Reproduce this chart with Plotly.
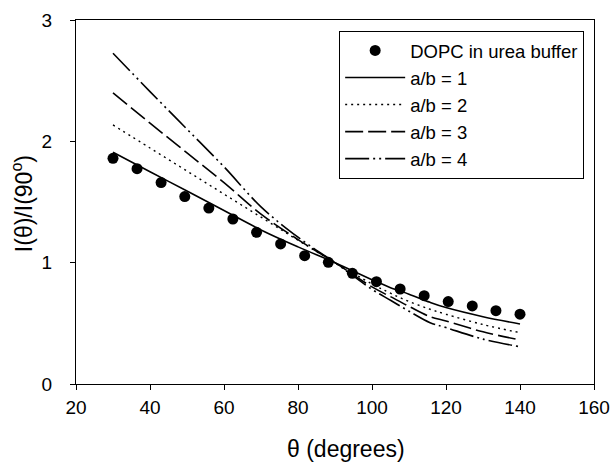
import plotly.graph_objects as go

# Measured data
theta_data = [30, 36.5, 43, 49.4, 55.9, 62.4, 68.8, 75.3, 81.8, 88.2, 94.7, 101.2, 107.6, 114.1, 120.6, 127.1, 133.5, 140]
ratio_data = [1.86, 1.775, 1.66, 1.545, 1.45, 1.36, 1.25, 1.154, 1.058, 1.003, 0.912, 0.843, 0.783, 0.728, 0.679, 0.643, 0.604, 0.575]

# Model curves
theta_fit = [30, 40, 50, 60, 70, 80, 90, 100, 105, 110, 115.7, 120, 130, 140]
ab1 = [1.91, 1.75, 1.59, 1.43, 1.27, 1.13, 1.0, 0.86, 0.794, 0.74, 0.673, 0.63, 0.555, 0.495]
ab2 = [2.135, 1.945, 1.755, 1.565, 1.375, 1.185, 1.0, 0.825, 0.748, 0.68, 0.616, 0.575, 0.49, 0.423]
ab3 = [2.40, 2.15, 1.905, 1.66, 1.40, 1.19, 1.0, 0.80, 0.72, 0.64, 0.555, 0.52, 0.43, 0.363]
ab4 = [2.726, 2.41, 2.10, 1.79, 1.46, 1.21, 1.0, 0.78, 0.69, 0.60, 0.505, 0.465, 0.37, 0.307]

x_ticks = [20, 40, 60, 80, 100, 120, 140, 160]
y_ticks = [0, 1, 2, 3]

FONT = "Liberation Sans, Arial, sans-serif"

fig = go.Figure()
fig.add_trace(go.Scatter(x=theta_data, y=ratio_data, mode="markers",
                         name="DOPC in urea buffer",
                         marker=dict(color="black", size=11, symbol="circle")))
fig.add_trace(go.Scatter(x=theta_fit, y=ab1, mode="lines", name="a/b = 1",
                         line=dict(color="black", width=1.6, dash="solid", shape="spline")))
fig.add_trace(go.Scatter(x=theta_fit, y=ab2, mode="lines", name="a/b = 2",
                         line=dict(color="black", width=1.4, dash="2px,4px", shape="spline")))
fig.add_trace(go.Scatter(x=theta_fit, y=ab3, mode="lines", name="a/b = 3",
                         line=dict(color="black", width=1.6, dash="18px,5px", shape="spline")))
fig.add_trace(go.Scatter(x=theta_fit, y=ab4, mode="lines", name="a/b = 4",
                         line=dict(color="black", width=1.6, dash="24px,4px,2px,4px,2px,4px", shape="spline")))

fig.update_layout(
    width=612, height=462,
    margin=dict(l=76, r=18, t=20, b=78, autoexpand=False),
    paper_bgcolor="white", plot_bgcolor="white",
    font=dict(family=FONT, size=19, color="black"),
    showlegend=True,
    legend=dict(x=0.981, y=0.97, xanchor="right", yanchor="top",
                bgcolor="white", bordercolor="black", borderwidth=1,
                font=dict(size=18.5), tracegroupgap=0, itemwidth=60),
    xaxis=dict(range=[20, 160], tickvals=x_ticks, ticks="outside", ticklen=5,
               tickcolor="black", showline=True, linecolor="black", linewidth=1,
               mirror=True, showgrid=False, zeroline=False, automargin=False,
               ticklabelstandoff=1),
    yaxis=dict(range=[0, 3], tickvals=y_ticks, ticks="outside", ticklen=5,
               tickcolor="black", showline=True, linecolor="black", linewidth=1,
               mirror=True, showgrid=False, zeroline=False, automargin=False,
               ticklabelstandoff=14),
    annotations=[
        dict(text="θ (degrees)", xref="paper", yref="paper", x=0.521, y=-0.1786,
             xanchor="center", yanchor="middle", showarrow=False,
             font=dict(size=23)),
        dict(text="I(θ)/I(90<sup>o</sup>)", xref="paper", yref="paper", x=-0.104, y=0.4945,
             xanchor="center", yanchor="middle", showarrow=False, textangle=-90,
             font=dict(size=23)),
    ],
)

# Remove the default 8px page margin so the figure fills the window exactly.
fig.write_html("out.html", config={"displayModeBar": False},
               post_script="document.body.style.margin='0';")
